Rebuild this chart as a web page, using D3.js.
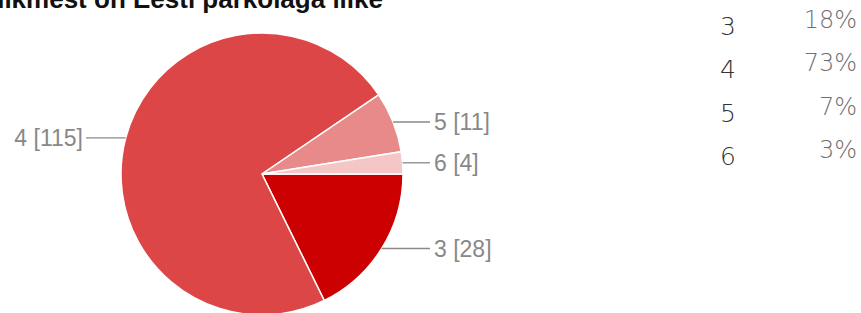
<!DOCTYPE html>
<html>
<head>
<meta charset="utf-8">
<script src="https://cdn.jsdelivr.net/npm/d3@7"></script>
<style>
  body { margin: 0; background: #fff; }
  svg { display: block; }
</style>
</head>
<body>
<div id="vis"></div>
<script>
const categories = ["3", "4", "5", "6"];
const counts = [28, 115, 11, 4];
const percents = ["18%", "73%", "7%", "3%"];
const colors = ["#cc0000", "#dd4646", "#e98a8a", "#f5c6c6"];
const TITLE = "Mitu liikmest on Eesti parkolaga liike";

const FRAME_WIDTH = 861;
const FRAME_HEIGHT = 313;
const CX = 262, CY = 174, R = 141;

const svg = d3.select("#vis")
    .append("svg")
    .attr("width", FRAME_WIDTH)
    .attr("height", FRAME_HEIGHT);

// title, mostly cut off at the top like the screenshot
svg.append("text")
    .attr("x", 383)
    .attr("y", 8)
    .attr("text-anchor", "end")
    .attr("font-family", "Liberation Sans, Arial, sans-serif")
    .attr("font-weight", "bold")
    .attr("font-size", 26)
    .attr("fill", "#111")
    .text(TITLE);

const pie = d3.pie()
    .sort(null)
    .startAngle(Math.PI / 2)
    .endAngle(Math.PI / 2 + 2 * Math.PI);

const arcs = pie(counts);
const arc = d3.arc().innerRadius(0).outerRadius(R);

const g = svg.append("g").attr("transform", `translate(${CX},${CY})`);

g.selectAll("path")
    .data(arcs)
    .enter()
    .append("path")
    .attr("d", arc)
    .attr("fill", (d, i) => colors[i])
    .attr("stroke", "#fff")
    .attr("stroke-width", 1.5);

// leader lines + labels
const labelFont = "Liberation Sans, Arial, sans-serif";
arcs.forEach((d, i) => {
    const mid = (d.startAngle + d.endAngle) / 2;
    const px = R * Math.sin(mid);
    const py = -R * Math.cos(mid);
    const right = px > 0;
    const endX = right ? 430 - CX : 86 - CX;
    g.append("line")
        .attr("x1", px).attr("y1", py)
        .attr("x2", endX).attr("y2", py)
        .attr("stroke", "#8a8a8a")
        .attr("stroke-width", 1.3);
    g.append("text")
        .attr("x", right ? endX + 4 : endX - 3)
        .attr("y", py)
        .attr("dy", "0.36em")
        .attr("text-anchor", right ? "start" : "end")
        .attr("font-family", labelFont)
        .attr("font-size", 23)
        .attr("fill", "#888")
        .text(categories[i] + " [" + counts[i] + "]");
});

// legend table on the right
const legendFont = "DejaVu Sans, sans-serif";
const rowY = d3.scaleLinear().domain([0, 3]).range([35, 165]);
const legend = svg.append("g");
legend.selectAll(".cat")
    .data(categories)
    .enter()
    .append("text")
    .attr("x", 720)
    .attr("y", (d, i) => rowY(i))
    .attr("font-family", legendFont)
    .attr("font-weight", 200)
    .attr("font-size", 25)
    .attr("fill", "#333")
    .text(d => d);
legend.selectAll(".pct")
    .data(percents)
    .enter()
    .append("text")
    .attr("x", 857)
    .attr("y", (d, i) => rowY(i) - 7)
    .attr("text-anchor", "end")
    .attr("font-family", legendFont)
    .attr("font-weight", 200)
    .attr("font-size", 24)
    .attr("fill", "#707070")
    .text(d => d);
</script>
</body>
</html>
